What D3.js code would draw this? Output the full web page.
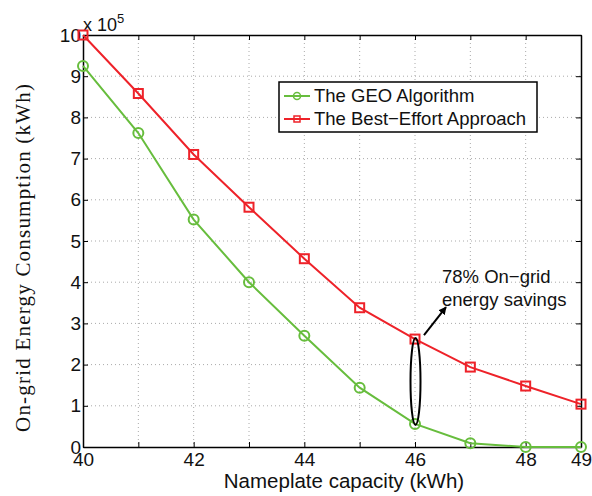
<!DOCTYPE html>
<html>
<head>
<meta charset="utf-8">
<script src="https://cdn.jsdelivr.net/npm/d3@7"></script>
<style>
  body { margin: 0; background: #fff; }
  svg { display: block; }
</style>
</head>
<body>
<svg id="chart" width="592" height="496"></svg>
<script>
// capacity values (kWh)
var capacity = [40, 41, 42, 43, 44, 45, 46, 47, 48, 49];
// on-grid energy, in units of 1e5 kWh
var geo = [9.25, 7.62, 5.52, 4.0, 2.7, 1.44, 0.56, 0.09, 0.0, 0.0];
var bestEffort = [10.0, 8.58, 7.1, 5.82, 4.57, 3.38, 2.62, 1.94, 1.48, 1.04];
var xTickLabels = [40, 42, 44, 46, 48, 49];
var yTicks = [0, 1, 2, 3, 4, 5, 6, 7, 8, 9, 10];
var seriesNames = ['The GEO Algorithm', 'The Best\u2212Effort Approach'];

var green = '#67bd3d';
var red = '#ee2229';
var pLeft = 83, pRight = 581, pTop = 35, pBottom = 447;

var svg = d3.select('#chart');
var x = d3.scaleLinear().domain([40, 49]).range([pLeft, pRight]);
var y = d3.scaleLinear().domain([0, 10]).range([pBottom, pTop]);
var font = '"Liberation Sans", Arial, sans-serif';

// grid
var grid = svg.append('g');
grid.selectAll('.vg').data(capacity.slice(1, -1)).enter().append('line')
    .attr('x1', d => x(d)).attr('x2', d => x(d))
    .attr('y1', pTop).attr('y2', pBottom)
    .attr('stroke', '#aaa').attr('stroke-width', 1)
    .attr('stroke-dasharray', '1,3');
grid.selectAll('.hg').data(yTicks.slice(1, -1)).enter().append('line')
    .attr('x1', pLeft).attr('x2', pRight)
    .attr('y1', d => y(d)).attr('y2', d => y(d))
    .attr('stroke', '#aaa').attr('stroke-width', 1)
    .attr('stroke-dasharray', '1,3');

// axes, ticks pointing inward like matlab
var fmtX = d => xTickLabels.indexOf(d) >= 0 ? d : '';
var axB = svg.append('g').attr('transform', 'translate(0,' + pBottom + ')')
    .call(d3.axisBottom(x).tickValues(capacity).tickFormat(fmtX).tickSizeInner(-5).tickSizeOuter(0).tickPadding(5));
var axT = svg.append('g').attr('transform', 'translate(0,' + pTop + ')')
    .call(d3.axisTop(x).tickValues(capacity).tickFormat('').tickSizeInner(-5).tickSizeOuter(0));
var axL = svg.append('g').attr('transform', 'translate(' + pLeft + ',0)')
    .call(d3.axisLeft(y).tickValues(yTicks).tickSizeInner(-5).tickSizeOuter(0).tickPadding(2));
var axR = svg.append('g').attr('transform', 'translate(' + pRight + ',0)')
    .call(d3.axisRight(y).tickValues(yTicks).tickFormat('').tickSizeInner(-5).tickSizeOuter(0));
[axB, axT, axL, axR].forEach(function(a) {
    a.select('.domain').attr('stroke', '#000').attr('stroke-width', 1.5);
    a.selectAll('.tick line').attr('stroke', '#000');
    a.selectAll('text').attr('font-family', font).attr('font-size', 19).attr('fill', '#111');
});
axB.selectAll('text').attr('dy', '0.72em');

// scale factor label
var sf = svg.append('text').attr('x', pLeft).attr('y', 31)
    .attr('font-family', font).attr('font-size', 18).attr('fill', '#111');
sf.append('tspan').text('x 10');
sf.append('tspan').attr('dy', -8).attr('font-size', 13).text('5');

// series
var line = d3.line().x((d, i) => x(capacity[i])).y(d => y(d));
svg.append('path').datum(geo).attr('d', line)
    .attr('fill', 'none').attr('stroke', green).attr('stroke-width', 2);
svg.append('path').datum(bestEffort).attr('d', line)
    .attr('fill', 'none').attr('stroke', red).attr('stroke-width', 2);

svg.selectAll('.gm').data(geo).enter().append('circle')
    .attr('cx', (d, i) => x(capacity[i])).attr('cy', d => y(d)).attr('r', 5)
    .attr('fill', 'none').attr('stroke', green).attr('stroke-width', 2);
svg.selectAll('.rm').data(bestEffort).enter().append('rect')
    .attr('x', (d, i) => x(capacity[i]) - 4.5).attr('y', d => y(d) - 4.5)
    .attr('width', 9).attr('height', 9)
    .attr('fill', 'none').attr('stroke', red).attr('stroke-width', 2);

// legend
var lg = svg.append('g');
lg.append('rect').attr('x', 279).attr('y', 82).attr('width', 258).attr('height', 50)
    .attr('fill', '#fff').attr('stroke', '#000').attr('stroke-width', 1.5);
[green, red].forEach(function(c, i) {
    var ly = 96 + i * 23;
    lg.append('line').attr('x1', 284).attr('x2', 310).attr('y1', ly).attr('y2', ly)
        .attr('stroke', c).attr('stroke-width', 2);
    if (i == 0) {
        lg.append('circle').attr('cx', 297).attr('cy', ly).attr('r', 3.5)
            .attr('fill', 'none').attr('stroke', c).attr('stroke-width', 1.5);
    } else {
        lg.append('rect').attr('x', 294).attr('y', ly - 3).attr('width', 6).attr('height', 6)
            .attr('fill', 'none').attr('stroke', c).attr('stroke-width', 1.5);
    }
    lg.append('text').attr('x', 314).attr('y', ly + 6).text(seriesNames[i])
        .attr('font-family', font).attr('font-size', 18.5).attr('fill', '#111');
});

// annotation: ellipse around the gap at 46 plus arrow
var gapX = x(46);
svg.append('ellipse').attr('cx', gapX + 0.5).attr('cy', (y(geo[6]) + y(bestEffort[6])) / 2)
    .attr('rx', 5).attr('ry', (y(geo[6]) - y(bestEffort[6])) / 2 + 1)
    .attr('fill', 'none').attr('stroke', '#000').attr('stroke-width', 2);
svg.append('defs').append('marker').attr('id', 'ah')
    .attr('viewBox', '0 0 10 10').attr('refX', 9).attr('refY', 5)
    .attr('markerWidth', 4).attr('markerHeight', 4).attr('orient', 'auto')
    .append('path').attr('d', 'M0,0 L10,5 L0,10 z').attr('fill', '#000');
svg.append('line').attr('x1', gapX + 9).attr('y1', y(bestEffort[6]) - 4)
    .attr('x2', gapX + 31).attr('y2', y(bestEffort[6]) - 32)
    .attr('stroke', '#000').attr('stroke-width', 2).attr('marker-end', 'url(#ah)');
var ann = svg.append('text').attr('font-family', font).attr('font-size', 18.5).attr('fill', '#111');
ann.append('tspan').attr('x', 442).attr('y', 283).text('78% On\u2212grid');
ann.append('tspan').attr('x', 442).attr('y', 306).text('energy savings');

// axis titles
svg.append('text').attr('x', (pLeft + pRight) / 2 + 12).attr('y', 488).attr('text-anchor', 'middle')
    .attr('font-family', font).attr('font-size', 20.5).attr('fill', '#111')
    .text('Nameplate capacity (kWh)');
svg.append('text').attr('transform', 'translate(30,' + 258 + ') rotate(-90)')
    .attr('text-anchor', 'middle')
    .attr('font-family', '"Liberation Serif", "Times New Roman", serif').attr('font-size', 21)
    .attr('textLength', 348).attr('lengthAdjust', 'spacing').attr('fill', '#111')
    .text('On-grid Energy Consumption (kWh)');
</script>
</body>
</html>
